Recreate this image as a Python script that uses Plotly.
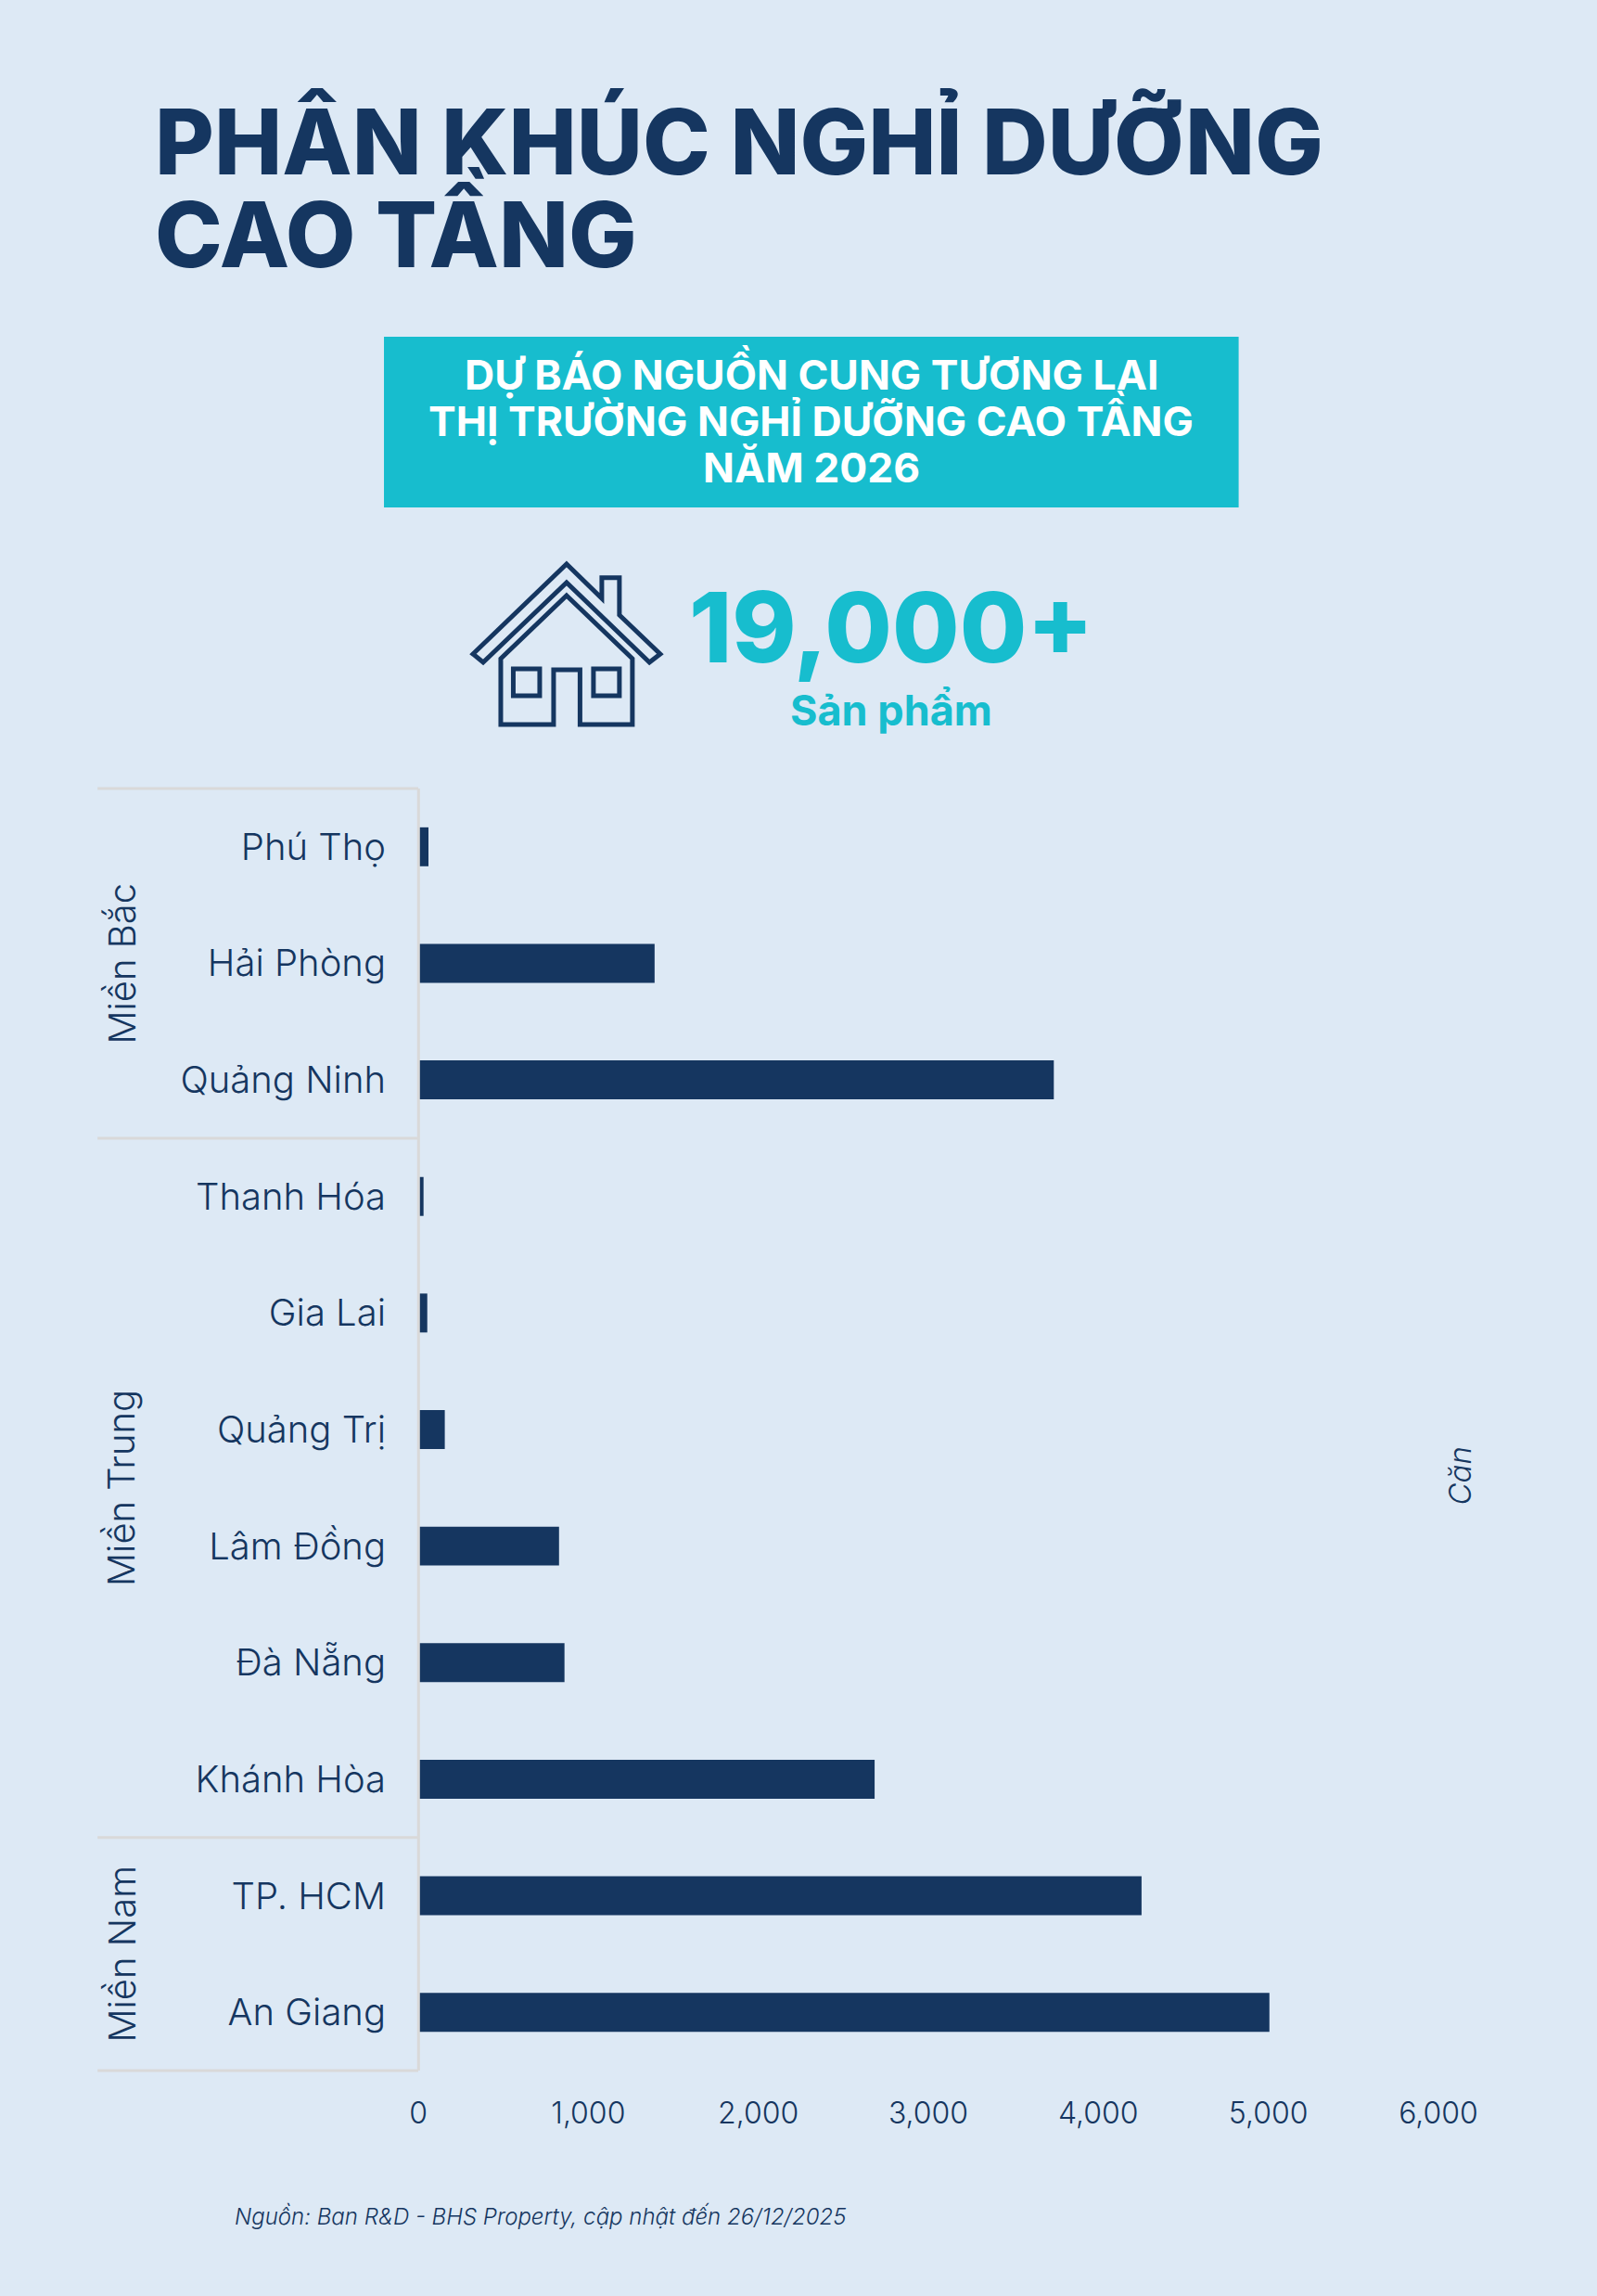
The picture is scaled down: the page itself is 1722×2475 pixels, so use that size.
import plotly.graph_objects as go

# size of the infographic page and of the plot area on it
W = 1722
H = 2475
PLOT_L = 451
PLOT_R = 1551.5
PLOT_T = 850
PLOT_B = 2232

NAVY = "#153660"
TEAL = "#17BDCE"
BG = "#DDE9F5"
RULE = "#D9D9D9"
FONT = "Inter"

provinces = ["Phú Thọ", "Hải Phòng", "Quảng Ninh", "Thanh Hóa", "Gia Lai", "Quảng Trị",
             "Lâm Đồng", "Đà Nẵng", "Khánh Hòa", "TP. HCM", "An Giang"]
units = [60, 1390, 3738, 31, 53, 156, 828, 860, 2684, 4254, 5006]
regions = ["Miền Bắc", "Miền Trung", "Miền Nam"]
region_sizes = [3, 6, 2]
x_ticks = [0, 1000, 2000, 3000, 4000, 5000, 6000]
title_lines = ["PHÂN KHÚC NGHỈ DƯỠNG", "CAO TẦNG"]
banner_lines = ["DỰ BÁO NGUỒN CUNG TƯƠNG LAI", "THỊ TRƯỜNG NGHỈ DƯỠNG CAO TẦNG", "NĂM 2026"]


# page pixels to plotly "paper" fractions (paper is the plot area, not the page)
def fx(x):
    return (x - PLOT_L) / (PLOT_R - PLOT_L)


def fy(y):
    return (PLOT_B - y) / (PLOT_B - PLOT_T)


def path(points):
    return "M " + " L ".join("%.5f,%.5f" % (fx(x), fy(y)) for x, y in points) + " Z"


def label(x, y, text, size, color=NAVY, weight=400, xanchor="center", italic=False, angle=0):
    fig.add_annotation(x=fx(x), y=fy(y), xref="paper", yref="paper", text=text, showarrow=False,
                       xanchor=xanchor, yanchor="middle", textangle=angle,
                       font=dict(family=FONT, size=size, color=color, weight=weight,
                                 style="italic" if italic else "normal"))


fig = go.Figure()
fig.add_trace(go.Bar(x=units, y=provinces, orientation="h", marker=dict(color=NAVY, line_width=0),
                     showlegend=False))

fig.update_layout(
    width=W, height=H, autosize=False,
    margin=dict(l=PLOT_L, r=W - PLOT_R, t=PLOT_T, b=H - PLOT_B, pad=0),
    paper_bgcolor=BG, plot_bgcolor=BG,
    bargap=0.666,
    font=dict(family=FONT, color=NAVY),
)
fig.update_xaxes(range=[0, 6000], tickvals=x_ticks, tickformat=",", showgrid=False, zeroline=False,
                 showline=False, ticks="", tickfont=dict(size=32, color=NAVY, weight=300), ticklabelstandoff=24)
fig.update_yaxes(type="category", categoryorder="array", categoryarray=provinces, range=[10.5, -0.5],
                 showgrid=False, zeroline=False, showline=False, ticks="",
                 tickfont=dict(size=40, color=NAVY, weight=300), ticklabelstandoff=34)

# axis rule and region separators, paper refs so the plot area does not clip them
fig.add_shape(type="line", xref="paper", yref="paper", x0=fx(451.3), x1=fx(451.3), y0=0, y1=1, layer="above",
              line=dict(color=RULE, width=3))
start = 0
bounds = [0]
for name, n in zip(regions, region_sizes):
    bounds.append(start + n)
    fig.add_annotation(x=fx(131), y=start + (n - 1) / 2, xref="paper", yref="y", text=name, showarrow=False,
                       textangle=-90, xanchor="center", yanchor="middle",
                       font=dict(family=FONT, size=40, color=NAVY, weight=300))
    start += n
for b in bounds:
    level = 1 - b / len(provinces)
    fig.add_shape(type="line", xref="paper", yref="paper", x0=fx(105), x1=fx(451), y0=level, y1=level,
                  line=dict(color=RULE, width=3))

# heading
label(165, 152, title_lines[0], 98, weight=800, xanchor="left")
label(165, 246, title_lines[1], 98, weight=800, xanchor="left")

# banner
fig.add_shape(type="rect", xref="paper", yref="paper", x0=fx(414), x1=fx(1336), y0=fy(363), y1=fy(547),
              fillcolor=TEAL, line_width=0, layer="below")
for y, text in zip([401, 451, 504], banner_lines):
    label(875, y, text, 44.5, color="white", weight=700)

# house icon
outline = dict(color=NAVY, width=5)
roof = [(611, 608), (649, 645), (649, 622.7), (668, 622.7), (668, 663), (712, 705), (700.4, 714),
        (611, 628), (521, 714), (510, 705)]
body = [(611, 642), (682, 710), (682, 781), (625.5, 781), (625.5, 722), (597, 722), (597, 781), (540, 781), (540, 710)]
win_l = [(553.5, 721), (582, 721), (582, 750), (553.5, 750)]
win_r = [(640, 721), (668, 721), (668, 750), (640, 750)]
for shape in [roof, body, win_l, win_r]:
    fig.add_shape(type="path", xref="paper", yref="paper", path=path(shape), line=outline)

# headline number
label(961, 676, "19,000+", 105, color=TEAL, weight=800)
label(961, 766, "Sản phẩm", 45, color=TEAL, weight=700)

# unit and source
label(1575, 1591, "Căn", 33, italic=True, angle=-90, weight=300)
label(251, 2389, "Nguồn: Ban R&D - BHS Property, cập nhật đến 26/12/2025", 24, italic=True, xanchor="left", weight=300)

fig.write_html("out.html", config=dict(displayModeBar=False),
               post_script="document.body.style.margin='0';document.body.style.background='%s';" % BG)
